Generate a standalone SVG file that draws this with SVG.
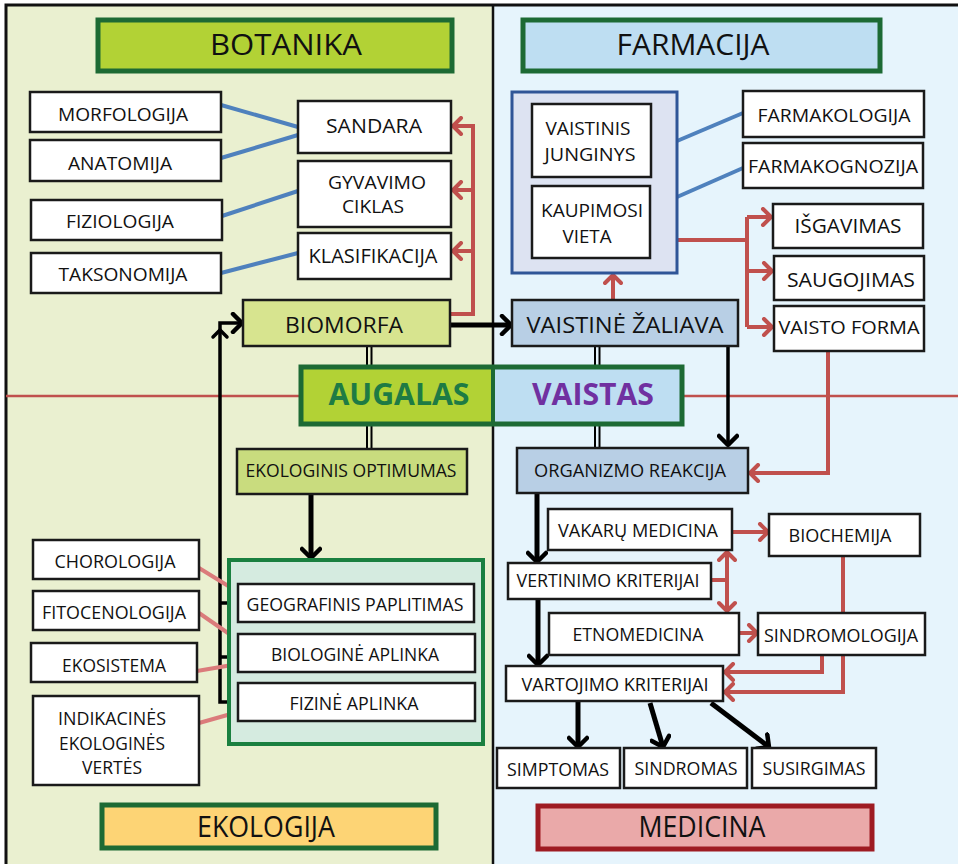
<svg xmlns="http://www.w3.org/2000/svg" width="958" height="864" viewBox="0 0 958 864">
  <defs>
    <style>
      .box { fill: #ffffff; stroke: #1a1a1a; stroke-width: 2.5; }
      .t { font-family: "Open Sans", "Noto Sans", "Liberation Sans", sans-serif; font-size: 19px; fill: #111111; text-anchor: middle; }
      .big { font-size: 30px; }
      .mid { font-size: 20.5px; }
      .bold { font-weight: bold; }
      .title-green { stroke: #1d6a34; stroke-width: 5; }
      .blue-ln { stroke: #4f81bd; stroke-width: 4; fill: none; }
      .pink-ln { stroke: #db7b7b; stroke-width: 4; fill: none; }
      .red-ln { stroke: #c0504d; stroke-width: 4; fill: none; }
      .blk-ln { stroke: #000000; stroke-width: 5; fill: none; }
      .red-arr { marker-end: url(#ar); }
      .blk-arr { marker-end: url(#ab); }
    </style>
    <marker id="ar" viewBox="0 0 20 20" refX="16" refY="10" markerWidth="20" markerHeight="20" markerUnits="userSpaceOnUse" orient="auto-start-reverse">
      <path d="M8,2 L16,10 L8,18" fill="none" stroke="#c0504d" stroke-width="4" stroke-linecap="round" stroke-linejoin="round"/>
    </marker>
    <marker id="ab" viewBox="0 0 22 22" refX="18" refY="11" markerWidth="22" markerHeight="22" markerUnits="userSpaceOnUse" orient="auto">
      <path d="M9,2 L18,11 L9,20" fill="none" stroke="#000000" stroke-width="4.5" stroke-linecap="round" stroke-linejoin="round"/>
    </marker>
  </defs>

  <!-- panels -->
  <rect x="0" y="0" width="958" height="864" fill="#ffffff"/>
  <rect x="6" y="5" width="487" height="859" fill="#eaf0d0"/>
  <rect x="493" y="5" width="465" height="859" fill="#e6f4fc"/>
  <path d="M6,864 V5 H958" fill="none" stroke="#111111" stroke-width="3"/>
  <line x1="493" y1="5" x2="493" y2="864" stroke="#111111" stroke-width="2.5"/>
  <line x1="6" y1="396" x2="958" y2="396" stroke="#c0504d" stroke-width="2.5"/>

  <!-- connectors -->
  <g id="connectors">
    <!-- botany links -->
    <line class="blue-ln" x1="221" y1="105" x2="298" y2="127"/>
    <line class="blue-ln" x1="221" y1="158" x2="298" y2="135"/>
    <line class="blue-ln" x1="222" y1="216" x2="298" y2="191"/>
    <line class="blue-ln" x1="221" y1="273" x2="298" y2="253"/>
    <path class="red-ln red-arr" d="M450,314 H473 V126 H453"/>
    <path class="red-ln red-arr" d="M473,190 H453"/>
    <path class="red-ln red-arr" d="M473,251 H453"/>

    <!-- pharmacy links -->
    <line class="blue-ln" x1="677" y1="141" x2="743" y2="113"/>
    <line class="blue-ln" x1="677" y1="197" x2="743" y2="168"/>
    <path class="red-ln" d="M677,240 H747 M747,217 V327"/>
    <path class="red-ln red-arr" d="M747,217 H771"/>
    <path class="red-ln red-arr" d="M747,271 H772"/>
    <path class="red-ln red-arr" d="M747,327 H772"/>
    <path class="red-ln red-arr" d="M613,300 V275"/>
    <path class="red-ln red-arr" d="M828,351 V473 H750"/>

    <!-- central links -->
    <path class="blk-ln blk-arr" d="M450,325 H511"/>
    <path class="blk-ln blk-arr" style="stroke-width:3.5" d="M728,346 V445"/>
    <g stroke="#000000" stroke-width="2">
      <line x1="367" y1="346" x2="367" y2="367"/>
      <line x1="371.5" y1="346" x2="371.5" y2="367"/>
      <line x1="367" y1="424" x2="367" y2="449"/>
      <line x1="371.5" y1="424" x2="371.5" y2="449"/>
      <line x1="595" y1="346" x2="595" y2="367"/>
      <line x1="599.5" y1="346" x2="599.5" y2="367"/>
      <line x1="595" y1="424" x2="595" y2="448"/>
      <line x1="599.5" y1="424" x2="599.5" y2="448"/>
    </g>

    <!-- ecology links -->
    <path class="blk-ln blk-arr" d="M311,494 V558"/>
    <path class="blk-ln blk-arr" style="stroke-width:3.5" d="M238,702 H220 V323 H242"/>
    <path d="M213,337 L220,330 L227,337" fill="none" stroke="#000" stroke-width="3.5" stroke-linecap="round"/>
    <path class="blk-ln" style="stroke-width:3.5" d="M220,603 H238 M220,657 H238"/>
    <line class="pink-ln" x1="199" y1="568" x2="238" y2="592"/>
    <line class="pink-ln" x1="199" y1="613" x2="238" y2="640"/>
    <line class="pink-ln" x1="197" y1="671" x2="238" y2="664"/>
    <line class="pink-ln" x1="199" y1="723" x2="238" y2="712"/>

    <!-- medicine links -->
    <path class="blk-ln blk-arr" d="M537,493 V562"/>
    <path class="blk-ln blk-arr" d="M538,599 V665"/>
    <path class="blk-ln blk-arr" d="M578,701 V747"/>
    <path class="blk-ln blk-arr" d="M650,703 L663,747"/>
    <path class="blk-ln blk-arr" d="M711,703 L769,747"/>
    <path class="red-ln red-arr" d="M732,532 H768"/>
    <path class="red-ln" d="M711,580 H727"/>
    <path class="red-ln red-arr" style="marker-start:url(#ar)" d="M727,552 V611"/>
    <path class="red-ln red-arr" d="M739,633 H757"/>
    <path class="red-ln" d="M843,556 V613"/>
    <path class="red-ln red-arr" d="M822,655 V672 H725"/>
    <path class="red-ln red-arr" d="M843,655 V692 H725"/>
  </g>

  <!-- botany -->
  <g id="botanika">
    <rect class="title-green" x="98" y="20" width="354" height="51" fill="#b2d235"/>
    <text class="t big" x="286" y="55" textLength="152" lengthAdjust="spacingAndGlyphs">BOTANIKA</text>
  </g>
  <g id="morfologija">
    <rect class="box" x="30" y="92" width="191" height="40"/>
    <text class="t" x="123" y="121" textLength="130" lengthAdjust="spacingAndGlyphs">MORFOLOGIJA</text>
  </g>
  <g id="anatomija">
    <rect class="box" x="30" y="140" width="191" height="41"/>
    <text class="t" x="120" y="170" textLength="104" lengthAdjust="spacingAndGlyphs">ANATOMIJA</text>
  </g>
  <g id="fiziologija">
    <rect class="box" x="31" y="200" width="191" height="40"/>
    <text class="t" x="120" y="228" textLength="108" lengthAdjust="spacingAndGlyphs">FIZIOLOGIJA</text>
  </g>
  <g id="taksonomija">
    <rect class="box" x="31" y="253" width="190" height="40"/>
    <text class="t" x="123" y="281" textLength="129" lengthAdjust="spacingAndGlyphs">TAKSONOMIJA</text>
  </g>
  <g id="sandara">
    <rect class="box" x="298" y="101" width="153" height="52"/>
    <text class="t mid" x="374" y="133" textLength="96" lengthAdjust="spacingAndGlyphs">SANDARA</text>
  </g>
  <g id="gyvavimo-ciklas">
    <rect class="box" x="298" y="161" width="153" height="66"/>
    <text class="t" x="377" y="189" textLength="98" lengthAdjust="spacingAndGlyphs">GYVAVIMO</text>
    <text class="t" x="373" y="213" textLength="62" lengthAdjust="spacingAndGlyphs">CIKLAS</text>
  </g>
  <g id="klasifikacija">
    <rect class="box" x="298" y="233" width="153" height="46"/>
    <text class="t mid" x="373" y="263" textLength="129" lengthAdjust="spacingAndGlyphs">KLASIFIKACIJA</text>
  </g>
  <g id="biomorfa">
    <rect class="box" x="243" y="300" width="207" height="46" style="fill:#d7e48f"/>
    <text class="t" style="font-size:22px" x="344" y="333" textLength="118" lengthAdjust="spacingAndGlyphs">BIOMORFA</text>
  </g>

  <!-- pharmacy -->
  <g id="farmacija">
    <rect class="title-green" x="523" y="20" width="357" height="51" fill="#bedef2"/>
    <text class="t big" x="693" y="55" textLength="153" lengthAdjust="spacingAndGlyphs">FARMACIJA</text>
  </g>
  <g id="junginys-grupe">
    <rect x="512" y="92" width="165" height="181" fill="#dde3f2" stroke="#2f5597" stroke-width="3"/>
  </g>
  <g id="vaistinis-junginys">
    <rect class="box" x="532" y="104" width="119" height="73"/>
    <text class="t" x="588" y="135" textLength="85" lengthAdjust="spacingAndGlyphs">VAISTINIS</text>
    <text class="t" x="590" y="161" textLength="91" lengthAdjust="spacingAndGlyphs">JUNGINYS</text>
  </g>
  <g id="kaupimosi-vieta">
    <rect class="box" x="532" y="186" width="118" height="72"/>
    <text class="t" x="592" y="217" textLength="102" lengthAdjust="spacingAndGlyphs">KAUPIMOSI</text>
    <text class="t" x="587" y="243" textLength="49" lengthAdjust="spacingAndGlyphs">VIETA</text>
  </g>
  <g id="farmakologija">
    <rect class="box" x="743" y="91" width="181" height="46"/>
    <text class="t" x="834" y="122" textLength="153" lengthAdjust="spacingAndGlyphs">FARMAKOLOGIJA</text>
  </g>
  <g id="farmakognozija">
    <rect class="box" x="743" y="143" width="180" height="45"/>
    <text class="t" x="833" y="173" textLength="170" lengthAdjust="spacingAndGlyphs">FARMAKOGNOZIJA</text>
  </g>
  <g id="isgavimas">
    <rect class="box" x="773" y="204" width="150" height="44"/>
    <text class="t" style="font-size:20px" x="848" y="233" textLength="107" lengthAdjust="spacingAndGlyphs">IŠGAVIMAS</text>
  </g>
  <g id="saugojimas">
    <rect class="box" x="774" y="256" width="150" height="44"/>
    <text class="t" style="font-size:20px" x="851" y="287" textLength="128" lengthAdjust="spacingAndGlyphs">SAUGOJIMAS</text>
  </g>
  <g id="vaisto-forma">
    <rect class="box" x="774" y="306" width="150" height="45"/>
    <text class="t" x="849" y="334" textLength="141" lengthAdjust="spacingAndGlyphs">VAISTO FORMA</text>
  </g>
  <g id="vaistine-zaliava">
    <rect class="box" x="512" y="300" width="226" height="46" style="fill:#b8cfe5"/>
    <text class="t" style="font-size:21px" x="625" y="333" textLength="197" lengthAdjust="spacingAndGlyphs">VAISTINĖ ŽALIAVA</text>
  </g>

  <!-- centre -->
  <g id="augalas-vaistas">
    <rect x="301" y="367" width="192" height="57" fill="#b2d235"/>
    <rect x="493" y="367" width="189" height="57" fill="#bedef2"/>
    <rect x="301" y="367" width="381" height="57" fill="none" stroke="#1d6a34" stroke-width="5"/>
    <line x1="493" y1="367" x2="493" y2="424" stroke="#1d6a34" stroke-width="4"/>
    <text class="t big bold" x="399" y="405" textLength="141" lengthAdjust="spacingAndGlyphs" style="fill:#1e7b44">AUGALAS</text>
    <text class="t big bold" x="593" y="405" textLength="122" lengthAdjust="spacingAndGlyphs" style="fill:#7030a0">VAISTAS</text>
  </g>
  <g id="ekologinis-optimumas">
    <rect class="box" x="237" y="449" width="230" height="45" style="fill:#c9dc7e"/>
    <text class="t" style="font-size:18px" x="351" y="477" textLength="211" lengthAdjust="spacingAndGlyphs">EKOLOGINIS OPTIMUMAS</text>
  </g>
  <g id="organizmo-reakcija">
    <rect class="box" x="517" y="448" width="231" height="45" style="fill:#b8cfe5"/>
    <text class="t" style="font-size:18px" x="630" y="477" textLength="192" lengthAdjust="spacingAndGlyphs">ORGANIZMO REAKCIJA</text>
  </g>

  <!-- ecology -->
  <g id="aplinka-grupe">
    <rect x="229" y="560" width="254" height="184" fill="#d5ebe0" stroke="#1a8040" stroke-width="4"/>
  </g>
  <g id="geografinis-paplitimas">
    <rect class="box" x="238" y="584" width="236" height="38"/>
    <text class="t" x="355" y="611" textLength="217" lengthAdjust="spacingAndGlyphs">GEOGRAFINIS PAPLITIMAS</text>
  </g>
  <g id="biologine-aplinka">
    <rect class="box" x="238" y="634" width="237" height="38"/>
    <text class="t" x="355" y="661" textLength="168" lengthAdjust="spacingAndGlyphs">BIOLOGINĖ APLINKA</text>
  </g>
  <g id="fizine-aplinka">
    <rect class="box" x="238" y="683" width="237" height="38"/>
    <text class="t" x="354" y="710" textLength="129" lengthAdjust="spacingAndGlyphs">FIZINĖ APLINKA</text>
  </g>
  <g id="chorologija">
    <rect class="box" x="33" y="540" width="166" height="39"/>
    <text class="t" x="115" y="568" textLength="121" lengthAdjust="spacingAndGlyphs">CHOROLOGIJA</text>
  </g>
  <g id="fitocenologija">
    <rect class="box" x="33" y="591" width="166" height="39"/>
    <text class="t" x="114" y="619" textLength="144" lengthAdjust="spacingAndGlyphs">FITOCENOLOGIJA</text>
  </g>
  <g id="ekosistema">
    <rect class="box" x="31" y="643" width="166" height="39"/>
    <text class="t" x="114" y="672" textLength="104" lengthAdjust="spacingAndGlyphs">EKOSISTEMA</text>
  </g>
  <g id="indikacines-vertes">
    <rect class="box" x="33" y="696" width="166" height="89"/>
    <text class="t" x="112" y="725" textLength="108" lengthAdjust="spacingAndGlyphs">INDIKACINĖS</text>
    <text class="t" x="112" y="750" textLength="106" lengthAdjust="spacingAndGlyphs">EKOLOGINĖS</text>
    <text class="t" x="112" y="774" textLength="60" lengthAdjust="spacingAndGlyphs">VERTĖS</text>
  </g>
  <g id="ekologija">
    <rect class="title-green" x="102" y="805" width="334" height="43" fill="#fdd475"/>
    <text class="t big" x="266" y="837" textLength="138" lengthAdjust="spacingAndGlyphs">EKOLOGIJA</text>
  </g>

  <!-- medicine -->
  <g id="vakaru-medicina">
    <rect class="box" x="548" y="509" width="184" height="41"/>
    <text class="t" x="638" y="537" textLength="160" lengthAdjust="spacingAndGlyphs">VAKARŲ MEDICINA</text>
  </g>
  <g id="biochemija">
    <rect class="box" x="769" y="514" width="151" height="42"/>
    <text class="t" x="840" y="542" textLength="103" lengthAdjust="spacingAndGlyphs">BIOCHEMIJA</text>
  </g>
  <g id="vertinimo-kriterijai">
    <rect class="box" x="508" y="563" width="203" height="36"/>
    <text class="t" x="608" y="587" textLength="183" lengthAdjust="spacingAndGlyphs">VERTINIMO KRITERIJAI</text>
  </g>
  <g id="etnomedicina">
    <rect class="box" x="549" y="613" width="190" height="42"/>
    <text class="t" x="638" y="641" textLength="131" lengthAdjust="spacingAndGlyphs">ETNOMEDICINA</text>
  </g>
  <g id="sindromologija">
    <rect class="box" x="758" y="613" width="167" height="42"/>
    <text class="t" x="841" y="642" textLength="154" lengthAdjust="spacingAndGlyphs">SINDROMOLOGIJA</text>
  </g>
  <g id="vartojimo-kriterijai">
    <rect class="box" x="506" y="666" width="217" height="35"/>
    <text class="t" x="615" y="691" textLength="187" lengthAdjust="spacingAndGlyphs">VARTOJIMO KRITERIJAI</text>
  </g>
  <g id="simptomas">
    <rect class="box" x="497" y="748" width="123" height="40"/>
    <text class="t" x="558" y="776" textLength="102" lengthAdjust="spacingAndGlyphs">SIMPTOMAS</text>
  </g>
  <g id="sindromas">
    <rect class="box" x="624" y="748" width="123" height="40"/>
    <text class="t" x="686" y="775" textLength="103" lengthAdjust="spacingAndGlyphs">SINDROMAS</text>
  </g>
  <g id="susirgimas">
    <rect class="box" x="752" y="748" width="124" height="40"/>
    <text class="t" x="814" y="775" textLength="103" lengthAdjust="spacingAndGlyphs">SUSIRGIMAS</text>
  </g>
  <g id="medicina">
    <rect x="538" y="806" width="334" height="43" fill="#eaa9a9" stroke="#9e1b22" stroke-width="5"/>
    <text class="t big" x="702" y="837" textLength="127" lengthAdjust="spacingAndGlyphs">MEDICINA</text>
  </g>
</svg>
